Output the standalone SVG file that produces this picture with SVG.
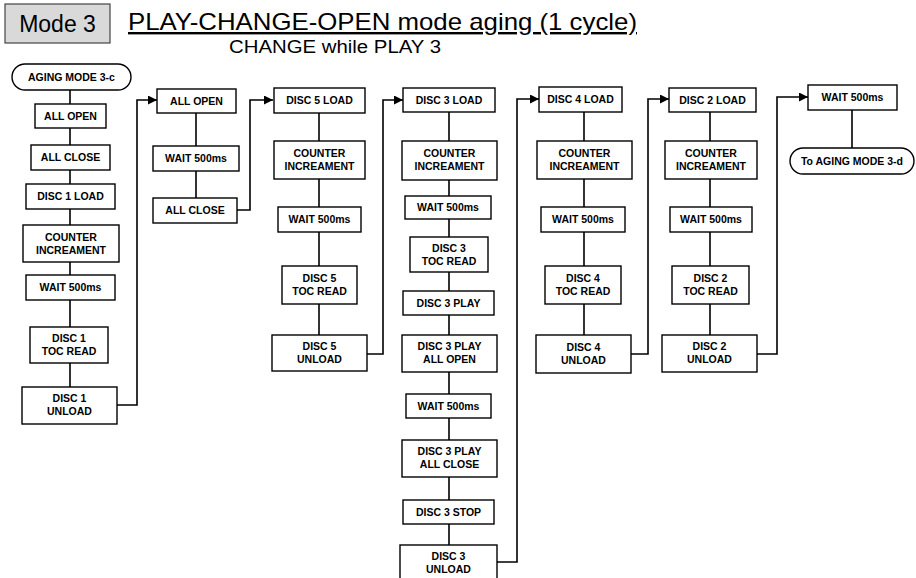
<svg xmlns="http://www.w3.org/2000/svg" width="916" height="578" viewBox="0 0 916 578">
<style>
.bg{fill:#fff}
.box{fill:#fff;stroke:#000;stroke-width:1.4}
.t{font-family:"Liberation Sans",Arial,sans-serif;font-size:10.5px;font-weight:bold;text-anchor:middle;fill:#000}
.ln{fill:none;stroke:#000;stroke-width:1.6}
</style>
<defs>
<marker id="ah" viewBox="0 0 10 10" refX="10" refY="5" markerWidth="9" markerHeight="9" markerUnits="userSpaceOnUse" orient="auto">
<path d="M0,0 L10,5 L0,10 z" fill="#000"/>
</marker>
</defs>
<rect class="bg" x="0" y="0" width="916" height="578"/>
<g id="header">
<rect x="5" y="4" width="105" height="39" fill="#d9d9d9" stroke="#444" stroke-width="1.2"/>
<text x="57.5" y="32" font-family="Liberation Sans,Arial,sans-serif" font-size="23" text-anchor="middle">Mode 3</text>
<text x="128" y="30" font-family="Liberation Sans,Arial,sans-serif" font-size="24" text-decoration="underline" textLength="509" lengthAdjust="spacingAndGlyphs">PLAY-CHANGE-OPEN mode aging (1 cycle)</text>
<text x="229" y="53" font-family="Liberation Sans,Arial,sans-serif" font-size="18" textLength="212" lengthAdjust="spacingAndGlyphs">CHANGE while PLAY 3</text>
</g>
<g id="connectors">
<line class="ln" x1="70" y1="90" x2="70" y2="387"/>
<line class="ln" x1="196" y1="113" x2="196" y2="198"/>
<line class="ln" x1="319" y1="113" x2="319" y2="335"/>
<line class="ln" x1="449" y1="112" x2="449" y2="545"/>
<line class="ln" x1="584" y1="112" x2="584" y2="335"/>
<line class="ln" x1="710" y1="112" x2="710" y2="335"/>
<line class="ln" x1="852" y1="110" x2="852" y2="148"/>
<polyline class="ln" points="117,405 137,405 137,100 157,100" marker-end="url(#ah)"/>
<polyline class="ln" points="237,210 250,210 250,100 273,100" marker-end="url(#ah)"/>
<polyline class="ln" points="367,354 383,354 383,100 403,100" marker-end="url(#ah)"/>
<polyline class="ln" points="497,562 517,562 517,99 539,99" marker-end="url(#ah)"/>
<polyline class="ln" points="631,354 648,354 648,99 669,99" marker-end="url(#ah)"/>
<polyline class="ln" points="757,354 777,354 777,97 808,97" marker-end="url(#ah)"/>
</g>
<g id="n-start"><rect class="box" x="12" y="64" width="119" height="26" rx="13"/><text class="t" x="71.5" y="81">AGING MODE 3-c</text></g>
<g id="n1-open"><rect class="box" x="35" y="104" width="71" height="24"/><text class="t" x="70.5" y="120">ALL OPEN</text></g>
<g id="n1-close"><rect class="box" x="31" y="145" width="79" height="25"/><text class="t" x="70.5" y="161">ALL CLOSE</text></g>
<g id="n1-load"><rect class="box" x="26" y="184" width="89" height="25"/><text class="t" x="70.5" y="200">DISC 1 LOAD</text></g>
<g id="n1-counter"><rect class="box" x="23" y="225" width="96" height="37"/><text class="t" x="71" y="241">COUNTER</text><text class="t" x="71" y="254">INCREAMENT</text></g>
<g id="n1-wait"><rect class="box" x="26" y="275" width="89" height="25"/><text class="t" x="70.5" y="291">WAIT 500ms</text></g>
<g id="n1-toc"><rect class="box" x="30" y="327" width="78" height="36"/><text class="t" x="69" y="342">DISC 1</text><text class="t" x="69" y="355">TOC READ</text></g>
<g id="n1-unload"><rect class="box" x="22" y="387" width="95" height="37"/><text class="t" x="69.5" y="402">DISC 1</text><text class="t" x="69.5" y="415">UNLOAD</text></g>

<g id="n2-open"><rect class="box" x="157" y="89" width="79" height="24"/><text class="t" x="196.5" y="105">ALL OPEN</text></g>
<g id="n2-wait"><rect class="box" x="153" y="146" width="86" height="25"/><text class="t" x="196" y="162">WAIT 500ms</text></g>
<g id="n2-close"><rect class="box" x="153" y="198" width="84" height="25"/><text class="t" x="195" y="214">ALL CLOSE</text></g>

<g id="n3-load"><rect class="box" x="274" y="88" width="91" height="25"/><text class="t" x="319.5" y="104">DISC 5 LOAD</text></g>
<g id="n3-counter"><rect class="box" x="274" y="141" width="91" height="38"/><text class="t" x="319.5" y="157">COUNTER</text><text class="t" x="319.5" y="170">INCREAMENT</text></g>
<g id="n3-wait"><rect class="box" x="278" y="207" width="83" height="25"/><text class="t" x="319.5" y="223">WAIT 500ms</text></g>
<g id="n3-toc"><rect class="box" x="282" y="266" width="75" height="38"/><text class="t" x="319.5" y="282">DISC 5</text><text class="t" x="319.5" y="295">TOC READ</text></g>
<g id="n3-unload"><rect class="box" x="272" y="335" width="95" height="36"/><text class="t" x="319.5" y="350">DISC 5</text><text class="t" x="319.5" y="363">UNLOAD</text></g>

<g id="n4-load"><rect class="box" x="403" y="88" width="92" height="24"/><text class="t" x="449" y="104">DISC 3 LOAD</text></g>
<g id="n4-counter"><rect class="box" x="402" y="141" width="95" height="39"/><text class="t" x="449.5" y="157">COUNTER</text><text class="t" x="449.5" y="170">INCREAMENT</text></g>
<g id="n4-wait"><rect class="box" x="405" y="196" width="86" height="23"/><text class="t" x="448" y="211">WAIT 500ms</text></g>
<g id="n4-toc"><rect class="box" x="410" y="237" width="78" height="35"/><text class="t" x="449" y="252">DISC 3</text><text class="t" x="449" y="265">TOC READ</text></g>
<g id="n4-play"><rect class="box" x="403" y="291" width="91" height="24"/><text class="t" x="448.5" y="307">DISC 3 PLAY</text></g>
<g id="n4-playopen"><rect class="box" x="402" y="335" width="95" height="37"/><text class="t" x="449.5" y="350">DISC 3 PLAY</text><text class="t" x="449.5" y="363">ALL OPEN</text></g>
<g id="n4-wait2"><rect class="box" x="406" y="394" width="85" height="24"/><text class="t" x="448.5" y="410">WAIT 500ms</text></g>
<g id="n4-playclose"><rect class="box" x="402" y="440" width="95" height="37"/><text class="t" x="449.5" y="455">DISC 3 PLAY</text><text class="t" x="449.5" y="468">ALL CLOSE</text></g>
<g id="n4-stop"><rect class="box" x="403" y="500" width="91" height="24"/><text class="t" x="448.5" y="516">DISC 3 STOP</text></g>
<g id="n4-unload"><rect class="box" x="400" y="545" width="97" height="38"/><text class="t" x="448.5" y="560">DISC 3</text><text class="t" x="448.5" y="573">UNLOAD</text></g>

<g id="n5-load"><rect class="box" x="539" y="87" width="83" height="25"/><text class="t" x="580.5" y="103">DISC 4 LOAD</text></g>
<g id="n5-counter"><rect class="box" x="537" y="141" width="95" height="38"/><text class="t" x="584.5" y="157">COUNTER</text><text class="t" x="584.5" y="170">INCREAMENT</text></g>
<g id="n5-wait"><rect class="box" x="541" y="207" width="84" height="25"/><text class="t" x="583" y="223">WAIT 500ms</text></g>
<g id="n5-toc"><rect class="box" x="545" y="266" width="76" height="38"/><text class="t" x="583" y="282">DISC 4</text><text class="t" x="583" y="295">TOC READ</text></g>
<g id="n5-unload"><rect class="box" x="536" y="335" width="95" height="38"/><text class="t" x="583.5" y="351">DISC 4</text><text class="t" x="583.5" y="364">UNLOAD</text></g>

<g id="n6-load"><rect class="box" x="669" y="88" width="87" height="24"/><text class="t" x="712.5" y="104">DISC 2 LOAD</text></g>
<g id="n6-counter"><rect class="box" x="665" y="141" width="92" height="38"/><text class="t" x="711" y="157">COUNTER</text><text class="t" x="711" y="170">INCREAMENT</text></g>
<g id="n6-wait"><rect class="box" x="670" y="207" width="82" height="25"/><text class="t" x="711" y="223">WAIT 500ms</text></g>
<g id="n6-toc"><rect class="box" x="672" y="266" width="77" height="38"/><text class="t" x="710.5" y="282">DISC 2</text><text class="t" x="710.5" y="295">TOC READ</text></g>
<g id="n6-unload"><rect class="box" x="662" y="335" width="95" height="37"/><text class="t" x="709.5" y="350">DISC 2</text><text class="t" x="709.5" y="363">UNLOAD</text></g>

<g id="n7-wait"><rect class="box" x="808" y="85" width="89" height="25"/><text class="t" x="852.5" y="101">WAIT 500ms</text></g>
<g id="n7-end"><rect class="box" x="790" y="148" width="124" height="26" rx="13"/><text class="t" x="852" y="165">To AGING MODE 3-d</text></g>
</svg>
